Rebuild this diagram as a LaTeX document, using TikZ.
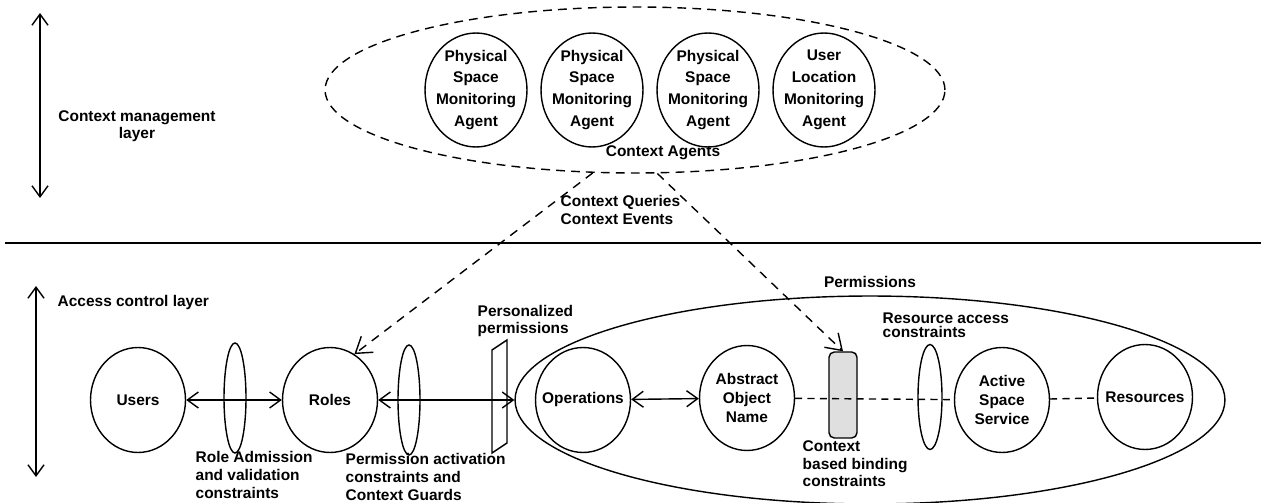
\documentclass[tikz,border=0pt]{standalone}
\usepackage{fontspec}
\setmainfont{Liberation Sans}
\usetikzlibrary{arrows.meta,shapes.geometric}
\newcommand{\lblfont}{\fontsize{8.8}{10}\selectfont\bfseries}
\newcommand{\agtfont}{\fontsize{8.8}{12.5}\selectfont\bfseries}
\newcommand{\entfont}{\fontsize{8.8}{10.8}\selectfont\bfseries}

\begin{document}
\begin{tikzpicture}[x=0.02cm,y=-0.02cm,line width=0.8pt,
    >={Straight Barb[length=2.2mm,width=3.2mm]},
    every node/.style={font=\lblfont},
    txt/.style={align=left,anchor=west,inner sep=0pt},
    agent/.style={draw,ellipse,minimum width=2.04cm,minimum height=2.28cm},
    entity/.style={draw,ellipse,minimum width=1.9cm,minimum height=2.1cm},
    cons/.style={draw,ellipse,minimum width=0.44cm,minimum height=2.2cm},
    agtxt/.style={align=center,font=\agtfont},
    enttxt/.style={align=center,font=\entfont},
    query/.style={dash pattern=on 5pt off 4pt,-{Straight Barb[length=3mm,width=4mm]}}]
  \useasboundingbox (0,0) rectangle (1261,503);

  % layers
  \draw (5,243) -- (1261,243);
  \draw[<->] (40,13) -- (40,198);
  \draw[<->] (36,286) -- (36,477);
  \node[align=center] (cml) at (137,126) {Context management\\layer};
  \node[txt] (acl) at (57,303) {Access control layer};

  % context agents
  \node[draw,ellipse,dash pattern=on 5pt off 3.5pt,minimum width=12.4cm,minimum height=3.32cm] (ctx) at (635,90) {};
  \node[agent,label={[agtxt]center:Physical\\Space\\Monitoring\\Agent}] (psma) at (476,90) {};
  \node[agent,label={[agtxt]center:Physical\\Space\\Monitoring\\Agent}] (psmb) at (592,90) {};
  \node[agent,label={[agtxt]center:Physical\\Space\\Monitoring\\Agent}] (psmc) at (708,90) {};
  \node[agent,label={[agtxt]center:User\\Location\\Monitoring\\Agent}] (ulma) at (824,90) {};
  \node (ctxlbl) at (663,153) {Context Agents};
  \node[txt] (qry) at (560,210) {Context Queries\\Context Events};

  % access control
  \node[draw,ellipse,minimum width=14.2cm,minimum height=4.16cm] (perm) at (870,400) {};
  \node (permlbl) at (870,282) {Permissions};
  \node[entity,label={[enttxt]center:Users}] (users) at (138,400) {};
  \node[entity,label={[enttxt]center:Roles}] (roles) at (330,400) {};
  \node[entity,label={[enttxt]center:Operations}] (ops) at (583,400) {};
  \node[entity,label={[enttxt]center:Abstract\\Object\\Name}] (aon) at (747,398) {};
  \node[entity,label={[enttxt]center:Active\\Space\\Service}] (ass) at (1002,400) {};
  \node[entity,label={[enttxt]center:Resources}] (res) at (1145,397) {};
  \node[cons] (rav) at (235,398) {};
  \node[cons] (pac) at (409,400) {};
  \node[cons,minimum width=0.48cm,minimum height=2.1cm] (rac) at (930,397) {};
  \node[draw,rounded corners=3pt,fill=gray!25,minimum width=0.56cm,minimum height=1.72cm] (bind) at (843,395) {};
  \draw (492,350) -- (507,340) -- (507,443) -- (492,453) -- cycle;

  \node[txt] (pplbl) at (477,321) {Personalized\\permissions};
  \node[txt] (ravlbl) at (195,475) {Role Admission\\and validation\\constraints};
  \node[txt] (paclbl) at (345,477) {Permission activation\\constraints and\\Context Guards};
  \node[txt,font=\fontsize{8.8}{8}\selectfont\bfseries] (raclbl) at (882,325) {Resource access\\constraints};
  \node[txt] (bindlbl) at (802,464) {Context\\based binding\\constraints};

  \path[<->] (users) edge (roles)
             (roles) edge (perm.west)
             (ops) edge (aon);
  \path[dash pattern=on 4pt off 3pt] (aon) edge (ass)
             (ass) edge (res);
  \draw[query] (ctx.-117) -- (roles.62);
  \draw[query] (ctx.-75) -- (bind.north);
\end{tikzpicture}
\end{document}
